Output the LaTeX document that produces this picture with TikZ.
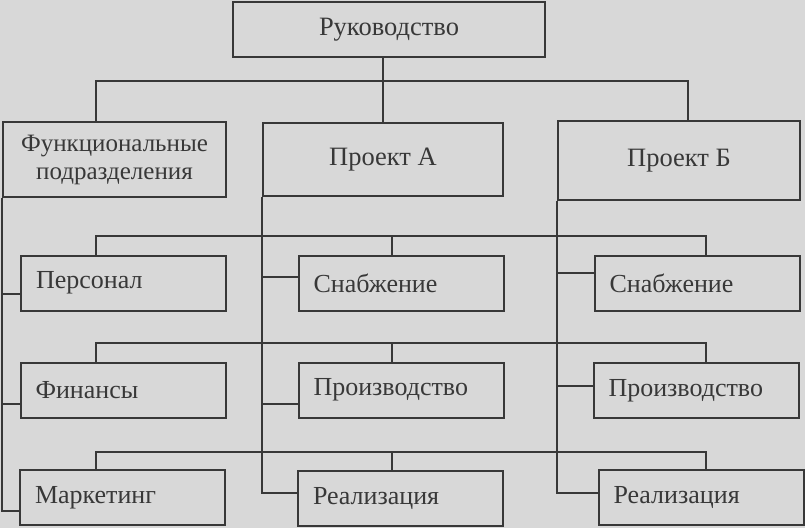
\documentclass[tikz,border=0pt]{standalone}
\usepackage{fontspec}
\setmainfont{Liberation Serif}
\usetikzlibrary{positioning}
\definecolor{paper}{HTML}{D8D8D8}
\definecolor{ink}{HTML}{383838}

\begin{document}
\begin{tikzpicture}[x=1pt,y=-1pt,line width=2pt,draw=ink,
  head/.style={draw=ink,fill=paper,text=ink,align=center,font=\fontsize{26.5}{28}\selectfont},
  unit/.style={draw=ink,fill=paper,text=ink,inner xsep=15pt,text width=175pt,align=left,
    minimum height=55pt,font=\fontsize{26}{28}\selectfont}]
\fill[paper] (0,0) rectangle (805,528);
% upper level
\node[head,minimum width=312pt,minimum height=55pt] (boss) at (389,29.5) {Руководство};
\node[head,minimum width=223pt,minimum height=75pt,font=\fontsize{25}{28}\selectfont] (func) at (114.5,159.5) {Функциональные\\подразделения};
\node[head,minimum width=240pt,minimum height=73pt] (pa) at (383,159.5) {Проект А};
\node[head,minimum width=242pt,minimum height=79pt] (pb) at (679,160.5) {Проект Б};
% departments
\node[unit] (per) at (123.5,283) {Персонал};
\node[unit] (fin) at (123,390) {Финансы};
\node[unit] (mar) at (122.5,497.5) {Маркетинг};
% project A
\node[unit] (snA) at (401,283) {Снабжение};
\node[unit] (prA) at (401,390) {Производство};
\node[unit] (reA) at (400.5,498) {Реализация};
% project B
\node[unit] (snB) at (697,283.5) {Снабжение};
\node[unit] (prB) at (696,390.5) {Производство};
\node[unit] (reB) at (701,497) {Реализация};
\coordinate (t1) at (96,81);
\coordinate (t3) at (688,81);
\draw (boss.south -| pa.north) to (pa.north);
\draw (func.north -| t1) -- (t1) -- (t3) -- (pb.north -| t3);
% cross bars
\foreach \y/\a/\b/\c in {236/per/snA/snB,343/fin/prA/prB,452/mar/reA/reB}{
  \draw (\a.north -| 96,0) -- (96,\y) -- (706,\y) -- (\c.north -| 706,0);
  \draw (392,\y) -- (\b.north -| 392,0);
}
% spines
\draw (func.south west) |- (per.west |- 0,294);
\draw (func.south west) |- (fin.west |- 0,404);
\draw (func.south west) |- (mar.west |- 0,511);
\draw (pa.south west) |- (snA.west |- 0,277);
\draw (pa.south west) |- (prA.west |- 0,404);
\draw (pa.south west) |- (reA.west |- 0,493);
\draw (pb.south west) |- (snB.west |- 0,273);
\draw (pb.south west) |- (prB.west |- 0,386);
\draw (pb.south west) |- (reB.west |- 0,493);
\end{tikzpicture}
\end{document}
